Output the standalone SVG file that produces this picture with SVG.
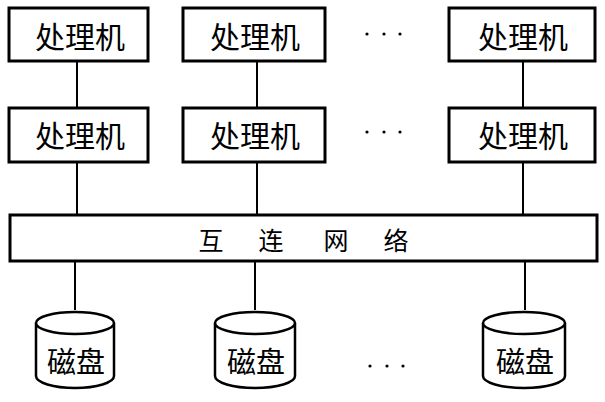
<svg xmlns="http://www.w3.org/2000/svg" width="605" height="402" viewBox="0 0 605 402">
<style>
.box{fill:#fff;stroke:#000;stroke-width:3}
.cyl{fill:#fff;stroke:#000;stroke-width:2.5}
.ln{stroke:#000;stroke-width:2;fill:none}
.t{font-family:"Noto Sans CJK SC",sans-serif;font-size:30px;text-anchor:middle;dominant-baseline:central;fill:#000}
.d{font-family:"Noto Sans CJK SC",sans-serif;font-size:25px;text-anchor:middle;dominant-baseline:central;fill:#000}
.k{font-family:"Noto Sans CJK SC",sans-serif;font-size:29px;text-anchor:middle;dominant-baseline:central;fill:#000}
.dot{fill:#000}
</style>
<rect width="605" height="402" fill="#fff"/>
<g id="connectors">
<line class="ln" x1="77" y1="61" x2="77" y2="107"/>
<line class="ln" x1="257" y1="61" x2="257" y2="107"/>
<line class="ln" x1="523" y1="61" x2="523" y2="107"/>
<line class="ln" x1="77" y1="162" x2="77" y2="215"/>
<line class="ln" x1="257" y1="162" x2="257" y2="215"/>
<line class="ln" x1="523" y1="162" x2="523" y2="215"/>
<line class="ln" x1="75" y1="261" x2="75" y2="310"/>
<line class="ln" x1="255" y1="261" x2="255" y2="310"/>
<line class="ln" x1="525" y1="261" x2="525" y2="310"/>
</g>
<g id="p11"><rect class="box" x="9" y="8" width="139" height="53"/><text class="t" x="80" y="35">处理机</text></g>
<g id="p12"><rect class="box" x="183" y="8" width="142" height="53"/><text class="t" x="255" y="35">处理机</text></g>
<g id="p13"><rect class="box" x="449" y="8" width="146" height="53"/><text class="t" x="523" y="35">处理机</text></g>
<g id="p21"><rect class="box" x="9" y="108" width="139" height="54"/><text class="t" x="80" y="134">处理机</text></g>
<g id="p22"><rect class="box" x="183" y="108" width="142" height="54"/><text class="t" x="255" y="134">处理机</text></g>
<g id="p23"><rect class="box" x="449" y="108" width="146" height="54"/><text class="t" x="523" y="134">处理机</text></g>
<g id="dots1"><circle class="dot" cx="367" cy="34" r="1.6"/><circle class="dot" cx="384" cy="34" r="1.6"/><circle class="dot" cx="400" cy="34" r="1.6"/></g>
<g id="dots2"><circle class="dot" cx="367" cy="132" r="1.6"/><circle class="dot" cx="384" cy="132" r="1.6"/><circle class="dot" cx="400" cy="132" r="1.6"/></g>
<g id="network"><rect class="box" x="10" y="215" width="587" height="46"/>
<text class="d" x="211" y="239">互</text><text class="d" x="271" y="239">连</text><text class="d" x="336" y="239">网</text><text class="d" x="396" y="239">络</text></g>
<g id="disk1"><path class="cyl" d="M36,323 L36,376 A39,12 0 0 0 114,376 L114,323"/><ellipse class="cyl" cx="75" cy="323" rx="39" ry="11"/><text class="k" x="76" y="360">磁盘</text></g>
<g id="disk2"><path class="cyl" d="M215,323 L215,376 A40,12 0 0 0 295,376 L295,323"/><ellipse class="cyl" cx="255" cy="323" rx="40" ry="11"/><text class="k" x="256" y="360">磁盘</text></g>
<g id="disk3"><path class="cyl" d="M483,323 L483,376 A41,12 0 0 0 565,376 L565,323"/><ellipse class="cyl" cx="524" cy="323" rx="41" ry="11"/><text class="k" x="525" y="360">磁盘</text></g>
<g id="dots3"><circle class="dot" cx="370" cy="366" r="1.6"/><circle class="dot" cx="387" cy="366" r="1.6"/><circle class="dot" cx="403" cy="366" r="1.6"/></g>
</svg>
